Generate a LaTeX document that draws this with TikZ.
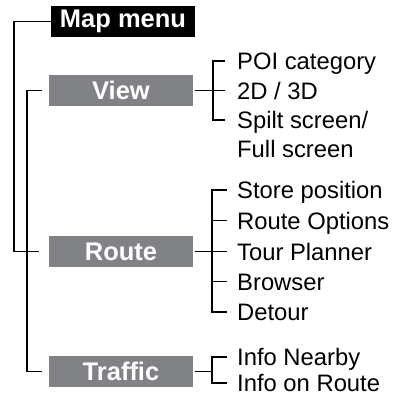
\documentclass[tikz,border=0pt]{standalone}
\usepackage{fontspec}
\setmainfont{Liberation Sans}
\definecolor{boxgray}{RGB}{128,130,133}
\begin{document}
\begin{tikzpicture}[x=1pt,y=-1pt,
  conn/.style={line width=1.8pt},
  headbox/.style={fill=black,text=white,font=\fontsize{25.5}{25.5}\selectfont\bfseries,
    minimum width=144pt,minimum height=31pt,inner sep=0pt},
  catbox/.style={fill=boxgray,text=white,font=\fontsize{25.5}{25.5}\selectfont\bfseries,
    minimum width=144pt,minimum height=31pt,inner sep=0pt},
  item/.style={anchor=west,inner sep=0pt,text height=17pt,text depth=0pt,
    font=\fontsize{23.8}{23.8}\selectfont}]
\useasboundingbox (0,0) rectangle (406,396);
% boxes
\node[headbox] (map) at (123,21.5) {Map menu};
\node[catbox] (view) at (121,90.5) {View};
\node[catbox] (route) at (121,251.5) {Route};
\node[catbox] (traffic) at (121,371.5) {Traffic};
% items
\node[item] (poi) at (237,61) {POI category};
\node[item] (d23) at (237,90.5) {2D / 3D};
\node[item] (split) at (237,120) {Spilt screen/};
\node[item] (full) at (237,148.5) {Full screen};
\node[item] (store) at (237,190) {Store position};
\node[item] (ropt) at (237,220.5) {Route Options};
\node[item] (tour) at (237,251.5) {Tour Planner};
\node[item] (brow) at (237,281.5) {Browser};
\node[item] (det) at (237,312) {Detour};
\node[item] (near) at (237,357) {Info Nearby};
\node[item] (onr) at (237,383) {Info on Route};
% trunk lines
\coordinate (o1) at (14,0);
\coordinate (o2) at (27,0);
\draw[conn] (map.west) -| (o1 |- route.west) -- ([xshift=-10pt]route.west);
\draw[conn] ([xshift=-7pt]view.west) -| (o2 |- traffic.west) -- ([xshift=-7pt]traffic.west);
% view bracket
\draw[conn] ([xshift=-12pt]poi.west) -- ++(-12,0) |- ([xshift=-12pt]split.west);
\draw[conn] ([xshift=2pt]view.east) -- ([xshift=-12pt]d23.west);
% route bracket
\draw[conn] ([xshift=-10pt]store.west) -- ++(-15,0) |- ([xshift=-10pt]det.west);
\draw[conn] ([xshift=-10pt]ropt.west) -- ++(-15,0);
\draw[conn] ([xshift=-10pt]brow.west) -- ++(-15,0);
\draw[conn] ([xshift=2pt]route.east) -- ([xshift=-10pt]tour.west);
% traffic bracket
\draw[conn] ([xshift=-10pt]near.west) -- ++(-15,0) |- ([xshift=-10pt]onr.west);
\draw[conn] ([xshift=2pt]traffic.east) -- ([xshift=-25pt]traffic.east -| near.west);
\end{tikzpicture}
\end{document}
